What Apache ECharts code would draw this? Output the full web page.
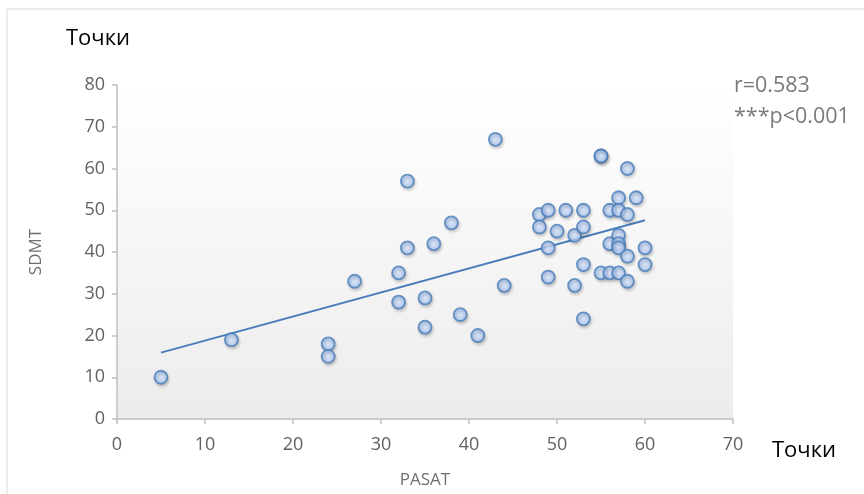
<!DOCTYPE html>
<html><head><meta charset="utf-8">
<script src="https://cdn.jsdelivr.net/npm/echarts@6/dist/echarts.min.js"></script>
<style>html,body{margin:0;padding:0;background:#fff}#c{width:864px;height:494px}</style>
</head><body><div id="c"></div>
<script>
const pasat = [5,13,24,24,27,32,32,33,33,35,35,36,38,39,41,43,44,48,48,49,49,49,50,51,52,52,53,53,53,53,55,55,55,56,56,56,57,57,57,57,57,57,58,58,58,58,59,60,60];
const sdmt  = [10,19,18,15,33,35,28,57,41,29,22,42,47,25,20,67,32,49,46,50,41,34,45,50,44,32,50,46,37,24,63,63,35,50,42,35,53,50,44,42,41,35,60,49,39,33,53,41,37];
const trendX = [5,60];
const trendY = [15.9,47.6];
const xTicks = [0,10,20,30,40,50,60,70];
const yTicks = [0,10,20,30,40,50,60,70,80];
const unitLabel = 'Точки';
const statsText = ['r=0.583','***p<0.001'];

const pts = pasat.map((x,i)=>[x,sdmt[i]]);
const font = 'Open Sans';
const chart = echarts.init(document.getElementById('c'), null, {renderer:'canvas'});
chart.setOption({
  animation:false,
  backgroundColor:'#fff',
  textStyle:{fontFamily:font},
  grid:{left:117, top:85, right:131, bottom:71, show:true, borderWidth:0,
    backgroundColor:{type:'linear',x:0,y:0,x2:0,y2:1,colorStops:[{offset:0,color:'#ffffff'},{offset:1,color:'#ececec'}]}},
  graphic:[
    {type:'rect', shape:{x:7,y:9,width:880,height:500}, style:{fill:'none',stroke:'#d9d9d9',lineWidth:1}, z:-1},
    {type:'text', left:66, top:28, style:{text:unitLabel, fill:'#000', font:'22px "Open Sans"'}},
    {type:'text', left:772, top:440, style:{text:unitLabel, fill:'#000', font:'22px "Open Sans"'}},
    {type:'text', left:734, top:75, style:{text:statsText[0], fill:'#7a7a7a', font:'21.5px "Open Sans"'}},
    {type:'text', left:734, top:106, style:{text:statsText[1], fill:'#7a7a7a', font:'21.5px "Open Sans"'}}
  ],
  xAxis:{type:'value', min:xTicks[0], max:xTicks[xTicks.length-1], interval:10,
    name:'PASAT', nameLocation:'middle', nameGap:53,
    nameTextStyle:{color:'#6f6f6f', fontSize:17, fontFamily:font},
    axisLine:{show:true, onZero:false, lineStyle:{color:'#bfbfbf', width:1.5}},
    axisTick:{show:true, length:5, lineStyle:{color:'#bfbfbf', width:1.5}},
    axisLabel:{color:'#626262', fontSize:18, margin:17, fontFamily:font},
    splitLine:{show:false}},
  yAxis:{type:'value', min:yTicks[0], max:yTicks[yTicks.length-1], interval:10,
    name:'SDMT', nameLocation:'middle', nameGap:72, nameRotate:90,
    nameTextStyle:{color:'#6f6f6f', fontSize:17, fontFamily:font},
    axisLine:{show:true, onZero:false, lineStyle:{color:'#bfbfbf', width:1.5}},
    axisTick:{show:true, length:5, lineStyle:{color:'#bfbfbf', width:1.5}},
    axisLabel:{color:'#626262', fontSize:18, margin:12, fontFamily:font},
    splitLine:{show:false}},
  series:[
    {type:'line', data:trendX.map((x,i)=>[x,trendY[i]]), symbol:'none', z:1,
      lineStyle:{color:'#4a7ebb', width:2}},
    {type:'scatter', data:pts, symbol:'circle', symbolSize:13, z:2,
      itemStyle:{
        color:{type:'radial',x:0.5,y:0.5,r:0.5,colorStops:[{offset:0,color:'#dde9ff'},{offset:1,color:'#a6c5f5'}]},
        borderColor:'#4a7ebb', borderWidth:1.8,
        shadowColor:'rgba(0,0,0,0.22)', shadowBlur:3, shadowOffsetX:1, shadowOffsetY:2}}
  ]
});
</script></body></html>
